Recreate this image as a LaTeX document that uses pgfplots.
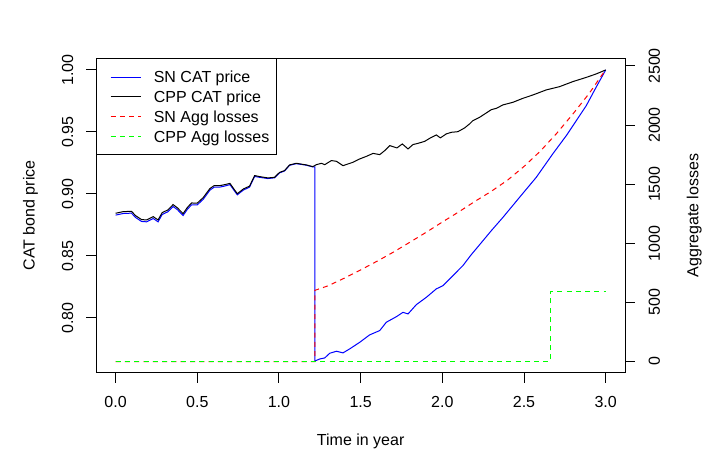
\documentclass[border=0pt]{standalone}
\usepackage{fontspec}
\setmainfont{Liberation Sans}
\usepackage{pgfplots}
\pgfplotsset{compat=1.18}
\usepackage{pgfplotstable}

\pgfplotstableread{
t p
0.000 0.8829
0.046 0.8842
0.097 0.8845
0.122 0.8810
0.159 0.8778
0.190 0.8775
0.230 0.8802
0.260 0.8775
0.285 0.8834
0.320 0.8856
0.352 0.8899
0.379 0.8872
0.413 0.8826
0.440 0.8877
0.465 0.8912
0.500 0.8912
0.536 0.8956
0.577 0.9030
0.603 0.9054
0.638 0.9055
0.669 0.9064
0.700 0.9075
0.731 0.9018
0.745 0.8993
0.782 0.9031
0.820 0.9055
0.851 0.9141
0.881 0.9134
0.932 0.9124
0.973 0.9130
1.004 0.9170
1.034 0.9185
1.065 0.9231
1.106 0.9244
1.167 0.9232
1.207 0.9218
1.220 0.9218
1.220 0.7652
1.250 0.7669
1.280 0.7677
1.311 0.7715
1.352 0.7731
1.392 0.7718
1.433 0.7750
1.494 0.7803
1.555 0.7863
1.617 0.7898
1.657 0.7965
1.719 0.8010
1.759 0.8045
1.790 0.8032
1.841 0.8107
1.902 0.8166
1.963 0.8234
2.004 0.8260
2.065 0.8341
2.126 0.8422
2.177 0.8510
2.228 0.8590
2.300 0.8704
2.371 0.8811
2.473 0.8973
2.575 0.9134
2.676 0.9323
2.762 0.9476
2.820 0.9591
2.881 0.9712
2.942 0.9862
3.000 1.0000
}\snprice

\pgfplotstableread{
t p
0.000 0.8844
0.046 0.8857
0.097 0.8860
0.122 0.8825
0.159 0.8793
0.190 0.8790
0.230 0.8817
0.260 0.8790
0.285 0.8849
0.320 0.8871
0.352 0.8914
0.379 0.8887
0.413 0.8841
0.440 0.8892
0.465 0.8927
0.500 0.8926
0.536 0.8970
0.577 0.9043
0.603 0.9067
0.638 0.9067
0.669 0.9075
0.700 0.9085
0.731 0.9027
0.745 0.9002
0.782 0.9040
0.820 0.9063
0.851 0.9148
0.881 0.9140
0.932 0.9129
0.973 0.9134
1.004 0.9174
1.034 0.9188
1.065 0.9234
1.106 0.9247
1.167 0.9234
1.207 0.9220
1.229 0.9236
1.260 0.9247
1.280 0.9236
1.321 0.9269
1.352 0.9263
1.392 0.9228
1.423 0.9242
1.453 0.9255
1.494 0.9282
1.535 0.9303
1.576 0.9327
1.617 0.9317
1.647 0.9349
1.678 0.9390
1.722 0.9371
1.755 0.9403
1.790 0.9363
1.820 0.9398
1.851 0.9408
1.892 0.9424
1.922 0.9448
1.963 0.9476
1.988 0.9452
2.024 0.9484
2.055 0.9497
2.095 0.9502
2.136 0.9532
2.167 0.9565
2.187 0.9591
2.228 0.9618
2.269 0.9653
2.300 0.9680
2.330 0.9690
2.371 0.9718
2.432 0.9739
2.493 0.9771
2.554 0.9798
2.636 0.9839
2.717 0.9865
2.799 0.9906
2.881 0.9940
2.942 0.9968
3.000 1.0000
}\cppprice

\pgfplotstableread{
t L
0.000 0
1.220 0
1.220 602
1.300 640
1.400 705
1.500 775
1.600 848
1.700 925
1.800 1008
1.900 1092
2.000 1180
2.100 1265
2.200 1355
2.300 1440
2.400 1535
2.500 1650
2.600 1780
2.700 1930
2.800 2095
2.900 2270
3.000 2470
}\snloss

\pgfplotstableread{
t L
0.000 0
2.662 0
2.662 591
3.000 591
}\cpploss

\newcommand\rf{\fontsize{16bp}{19.2bp}\selectfont}

\begin{document}
\begin{tikzpicture}
\path[use as bounding box] (0,0) rectangle (722bp,469bp);
\begin{axis}[
  at={(96bp,96.3bp)}, anchor=south west,
  scale only axis, width=529.3bp, height=314.4bp,
  xmin=-0.12, xmax=3.12, ymin=0.7558, ymax=1.0094,
  font=\rf,
  axis line style={line width=1bp, black},
  tick style={line width=1bp, black},
  tick align=inside, major tick length=-10bp,
  minor tick num=0, scaled ticks=false,
  /pgf/number format/assume math mode=true,
  xtick={0,0.5,1,1.5,2,2.5,3}, xtick pos=bottom, xticklabel pos=bottom,
  xticklabel={\pgfmathprintnumber[fixed,fixed zerofill,precision=1,assume math mode=true]{\tick}},
  xticklabel style={anchor=base, inner sep=0pt},
  xticklabel shift=34.6bp,
  ytick={0.8,0.85,0.9,0.95,1.0}, ytick pos=left, yticklabel pos=left,
  yticklabel={\pgfmathprintnumber[fixed,fixed zerofill,precision=2,assume math mode=true]{\tick}},
  yticklabel style={rotate=90, anchor=base, inner sep=0pt},
  yticklabel shift=23bp,
  xlabel={Time in year},
  xlabel style={at={(axis description cs:0.5,-0.23219)}, anchor=base, inner sep=0pt},
  ylabel={CAT bond price},
  ylabel style={at={(axis description cs:-0.11600,0.5)}, anchor=base, inner sep=0pt},
  legend cell align=left,
  legend style={at={(0,1)}, anchor=north west, draw=black, line width=1bp, fill=white,
    inner xsep=7bp, inner ysep=11bp, row sep=4.7bp,
    nodes={inner sep=0pt, text height=13.2bp, text depth=1.8bp, font=\rf},
    cells={anchor=west}},
  legend image code/.code={\draw[#1, line width=1bp] (7bp,0) -- (37bp,0); \path[draw=none, fill=none] (0,-0.5bp) rectangle (50.3bp,0.5bp);},
]
\addplot[blue, line width=1bp] table {\snprice};
\addlegendentry{SN CAT price}
\addplot[black, line width=1bp] table {\cppprice};
\addlegendentry{CPP CAT price}
\addlegendimage{red, dash pattern=on 5bp off 4.3bp, line width=1bp}
\addlegendentry{SN Agg losses}
\addlegendimage{green, dash pattern=on 5bp off 4.3bp, line width=1bp}
\addlegendentry{CPP Agg losses}
\end{axis}
\begin{axis}[
  at={(96bp,96.3bp)}, anchor=south west,
  scale only axis, width=529.3bp, height=314.4bp,
  xmin=-0.12, xmax=3.12, ymin=-94.7, ymax=2565,
  font=\rf,
  axis line style={line width=1bp, black},
  tick style={line width=1bp, black},
  tick align=inside, major tick length=-10bp,
  minor tick num=0, scaled ticks=false,
  /pgf/number format/assume math mode=true,
  xtick=\empty,
  ytick={0,500,1000,1500,2000,2500}, ytick pos=right, yticklabel pos=right,
  yticklabel={\pgfmathprintnumber[fixed,precision=0,1000 sep={},assume math mode=true]{\tick}},
  yticklabel style={rotate=90, anchor=base, inner sep=0pt},
  yticklabel shift=34.6bp,
  ylabel={Aggregate losses},
  ylabel style={at={(axis description cs:1.13792,0.5)}, anchor=base, inner sep=0pt},
]
\addplot[red, dash pattern=on 5bp off 4.3bp, line width=1bp] table {\snloss};
\addplot[green, dash pattern=on 5bp off 4.3bp, line width=1bp] table {\cpploss};
\end{axis}
\end{tikzpicture}
\end{document}
